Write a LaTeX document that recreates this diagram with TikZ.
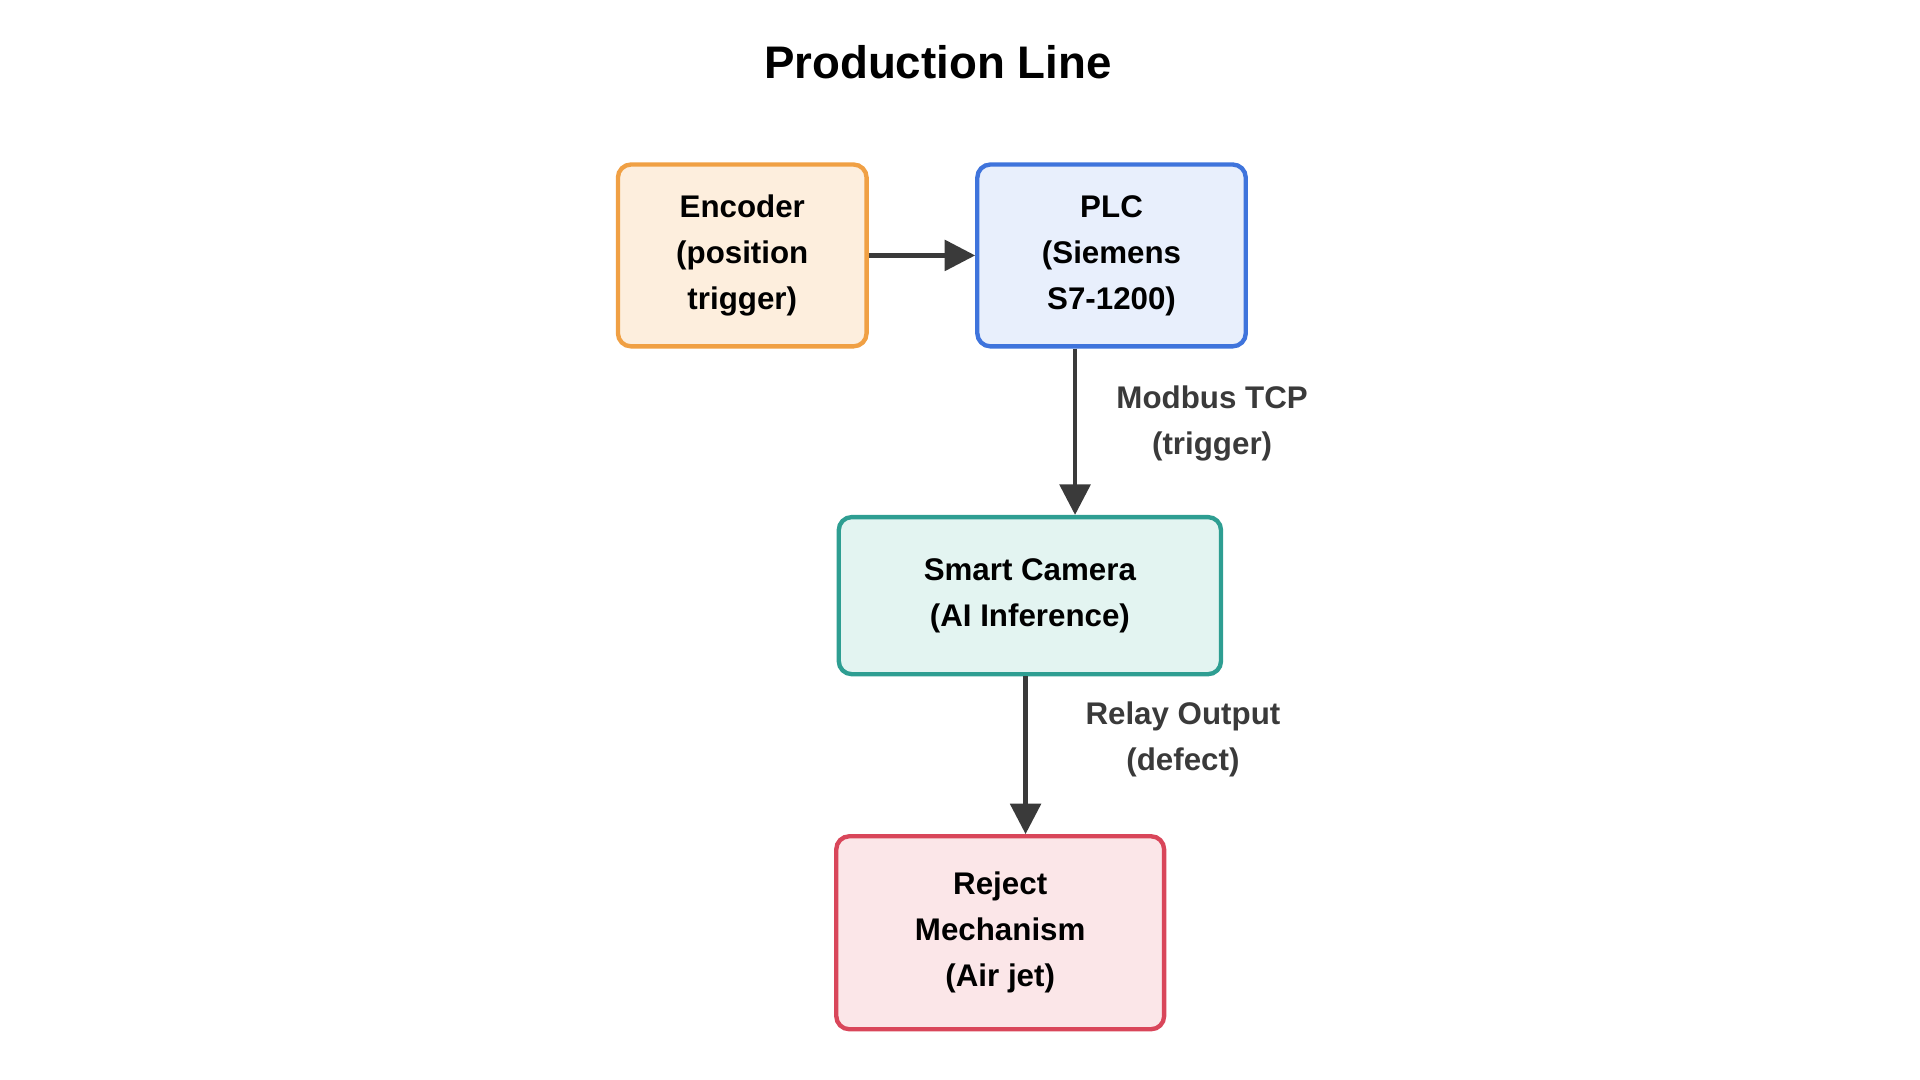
\documentclass[tikz,border=0pt]{standalone}
\usepackage{fontspec}
\setmainfont{Liberation Sans}
\usetikzlibrary{arrows, arrows.meta}

\definecolor{encline}{HTML}{F0A044}
\definecolor{encfill}{HTML}{FDEEDD}
\definecolor{plcline}{HTML}{3F74DC}
\definecolor{plcfill}{HTML}{E8EFFC}
\definecolor{camline}{HTML}{2E9E92}
\definecolor{camfill}{HTML}{E3F4F1}
\definecolor{rejline}{HTML}{D9465A}
\definecolor{rejfill}{HTML}{FBE6E8}
\definecolor{arrowgray}{HTML}{3A3A3A}

\begin{document}
\begin{tikzpicture}[scale=1]

\useasboundingbox (0, 0) rectangle (15.52, 8.73) ;

% title

\node (title) at (7.58, 8.23) {\fontsize{10.5}{12}\selectfont\bfseries Production Line} ;

% blocks

\tikzstyle{block} = [draw, line width=1pt, rounded corners=3pt, align=center,
	font=\fontsize{7.2}{10.6}\selectfont\bfseries, inner sep=0pt]

\node [block, draw=encline, fill=encfill, minimum width=2.01cm, minimum height=1.47cm]
	(encoder) at (6.0, 6.665) {Encoder\\(position\\trigger)} ;
\node [block, draw=plcline, fill=plcfill, minimum width=2.17cm, minimum height=1.47cm]
	(plc) at (8.985, 6.665) {PLC\\(Siemens\\S7-1200)} ;
\node [block, draw=camline, fill=camfill, minimum width=3.09cm, minimum height=1.27cm]
	(camera) at (8.325, 3.915) {Smart Camera\\(AI Inference)} ;
\node [block, draw=rejline, fill=rejfill, minimum width=2.65cm, minimum height=1.56cm]
	(reject) at (8.085, 1.19) {Reject\\Mechanism\\(Air jet)} ;

% links

\tikzstyle{link} = [line width=1pt, arrowgray, -{Triangle[length=7pt, width=7pt]}]
\tikzstyle{link label} = [align=center, font=\fontsize{7.2}{10.6}\selectfont\bfseries]

\draw [link] (plc.south -| 8.69, 0) -- (camera.north -| 8.69, 0)
	node [link label, pos=0.45, right=0.2cm] (modbus) {Modbus TCP\\(trigger)} ;
\draw [link] (encoder.east) -- (plc.west) ;
\draw [link] (camera.south -| 8.29, 0) -- (reject.north -| 8.29, 0)
	node [link label, pos=0.4, right=0.35cm] (relay) {Relay Output\\(defect)} ;

\end{tikzpicture}
\end{document}
